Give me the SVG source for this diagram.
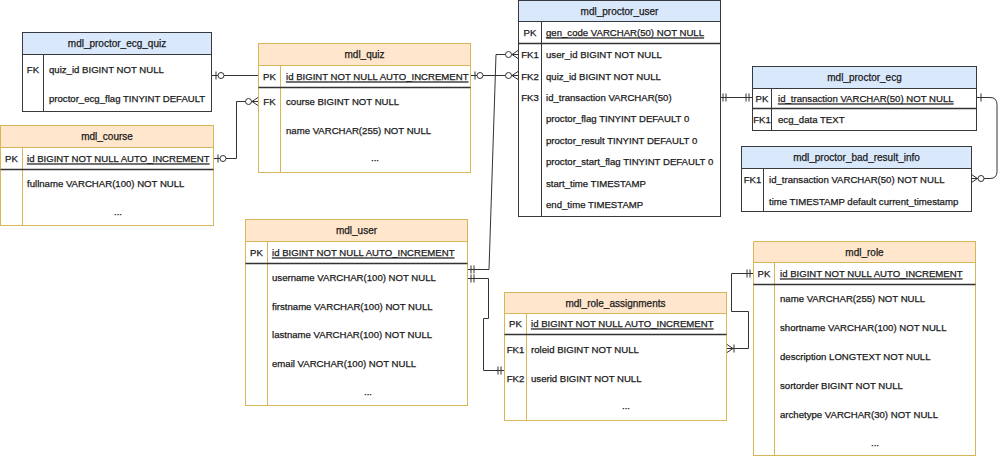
<svg xmlns="http://www.w3.org/2000/svg" width="1004" height="457" viewBox="0 0 1004 457">
<style>
.bg{fill:#ffffff}
.bodyO{fill:#ffffff;stroke:#d6b656;stroke-width:1}
.hdrO{fill:#ffe6cc;stroke:#d6b656;stroke-width:1}
.colO{stroke:#d6b656;stroke-width:1}
.bodyB{fill:#ffffff;stroke:#36393d;stroke-width:1}
.hdrB{fill:#dae8fc;stroke:#36393d;stroke-width:1}
.colB{stroke:#36393d;stroke-width:1}
.pk{stroke:#333333;stroke-width:1.5}
text{font-family:"Liberation Sans",Arial,Helvetica,sans-serif;fill:#1a1a1a;stroke:#1a1a1a;stroke-width:0.25}
.h{font-size:10px;text-anchor:middle;dominant-baseline:central}
.r{font-size:9.6px;dominant-baseline:central}
.k{font-size:9.6px;text-anchor:middle;dominant-baseline:central}
.u{text-decoration:underline}
.d{font-size:9.6px;text-anchor:middle}
.conn{fill:none;stroke:#333333;stroke-width:1}
.m{fill:none;stroke:#333333;stroke-width:1}
.mc{fill:#ffffff;stroke:#333333;stroke-width:1}
</style>
<defs>
<marker id="zeroToOne" markerUnits="userSpaceOnUse" markerWidth="20" markerHeight="20" refX="0" refY="0" orient="auto-start-reverse" style="overflow:visible">
<path class="m" d="M-4,-4V4"/><circle class="mc" cx="-9" cy="0" r="3"/>
</marker>
<marker id="zeroToMany" markerUnits="userSpaceOnUse" markerWidth="20" markerHeight="20" refX="0" refY="0" orient="auto-start-reverse" style="overflow:visible">
<path class="m" d="M0,-4L-6,0L0,4"/><circle class="mc" cx="-9.5" cy="0" r="3"/>
</marker>
<marker id="mandOne" markerUnits="userSpaceOnUse" markerWidth="20" markerHeight="20" refX="0" refY="0" orient="auto-start-reverse" style="overflow:visible">
<path class="m" d="M-3,-4V4M-6,-4V4"/>
</marker>
<marker id="oneToMany" markerUnits="userSpaceOnUse" markerWidth="20" markerHeight="20" refX="0" refY="0" orient="auto-start-reverse" style="overflow:visible">
<path class="m" d="M0,-4L-6,0L0,4M-7,-4V4"/>
</marker>
<marker id="one" markerUnits="userSpaceOnUse" markerWidth="20" markerHeight="20" refX="0" refY="0" orient="auto-start-reverse" style="overflow:visible">
<path class="m" d="M-5,-4V4"/>
</marker>
</defs>
<rect class="bg" x="0" y="0" width="1004" height="457"/>

<g id="connectors">
<path class="conn" d="M212,75.5H258" marker-start="url(#zeroToOne)"/>
<path class="conn" d="M214,158.5H236.5V101.5H258" marker-start="url(#zeroToOne)" marker-end="url(#zeroToMany)"/>
<path class="conn" d="M471,75.5H518" marker-start="url(#zeroToOne)" marker-end="url(#zeroToMany)"/>
<path class="conn" d="M468,269.5H489L496,54.5H518" marker-start="url(#mandOne)" marker-end="url(#zeroToMany)"/>
<path class="conn" d="M468,278.5H488.5V318.5H483.5V370.5H504" marker-start="url(#mandOne)" marker-end="url(#mandOne)"/>
<path class="conn" d="M720,97.5H752" marker-start="url(#mandOne)" marker-end="url(#mandOne)"/>
<path class="conn" d="M976,97.5H990Q997,97.5 997,104.5V171.5Q997,178.5 990,178.5H971.5" marker-start="url(#one)" marker-end="url(#zeroToMany)"/>
<path class="conn" d="M727,348.5H748.5V311.5H731.5V273.5H753" marker-start="url(#oneToMany)" marker-end="url(#mandOne)"/>
</g>

<g id="mdl_proctor_ecg_quiz">
<rect class="bodyB" x="22.5" y="32.5" width="189" height="79"/>
<rect class="hdrB" x="22.5" y="32.5" width="189" height="22"/>
<line class="colB" x1="43.5" y1="54.5" x2="43.5" y2="111.5"/>
<text class="h" x="117" y="43.5">mdl_proctor_ecg_quiz</text>
<text class="k" x="33" y="69">FK</text>
<text class="r" x="49" y="69">quiz_id BIGINT NOT NULL</text>
<text class="r" x="49" y="98">proctor_ecg_flag TINYINT DEFAULT</text>
</g>

<g id="mdl_course">
<rect class="bodyO" x="0.5" y="125.5" width="213" height="100"/>
<rect class="hdrO" x="0.5" y="125.5" width="213" height="22"/>
<line class="colO" x1="22.5" y1="147.5" x2="22.5" y2="225.5"/>
<line class="pk" x1="0.5" y1="169.5" x2="213.5" y2="169.5"/>
<text class="h" x="107" y="136.5">mdl_course</text>
<text class="k" x="11.5" y="158">PK</text>
<text class="r u" x="27" y="158">id BIGINT NOT NULL AUTO_INCREMENT</text>
<text class="r" x="27" y="183">fullname VARCHAR(100) NOT NULL</text>
<text class="d" x="118" y="215">...</text>
</g>

<g id="mdl_quiz">
<rect class="bodyO" x="258.5" y="43.5" width="212" height="129"/>
<rect class="hdrO" x="258.5" y="43.5" width="212" height="22"/>
<line class="colO" x1="280.5" y1="65.5" x2="280.5" y2="172.5"/>
<line class="pk" x1="258.5" y1="87.5" x2="470.5" y2="87.5"/>
<text class="h" x="364.5" y="54.5">mdl_quiz</text>
<text class="k" x="269.5" y="76">PK</text>
<text class="r u" x="286" y="76">id BIGINT NOT NULL AUTO_INCREMENT</text>
<text class="k" x="269.5" y="101">FK</text>
<text class="r" x="286" y="101">course BIGINT NOT NULL</text>
<text class="r" x="286" y="130">name VARCHAR(255) NOT NULL</text>
<text class="d" x="375" y="161">...</text>
</g>

<g id="mdl_proctor_user">
<rect class="bodyB" x="518.5" y="0.5" width="202" height="216"/>
<rect class="hdrB" x="518.5" y="0.5" width="202" height="21"/>
<line class="colB" x1="541.5" y1="21.5" x2="541.5" y2="216.5"/>
<line class="pk" x1="518.5" y1="43.5" x2="720.5" y2="43.5"/>
<text class="h" x="619.5" y="11">mdl_proctor_user</text>
<text class="k" x="530" y="32">PK</text>
<text class="r u" x="546" y="32">gen_code VARCHAR(50) NOT NULL</text>
<text class="k" x="530" y="54">FK1</text>
<text class="r" x="546" y="54">user_id BIGINT NOT NULL</text>
<text class="k" x="530" y="76">FK2</text>
<text class="r" x="546" y="76">quiz_id BIGINT NOT NULL</text>
<text class="k" x="530" y="97">FK3</text>
<text class="r" x="546" y="97">id_transaction VARCHAR(50)</text>
<text class="r" x="546" y="118">proctor_flag TINYINT DEFAULT 0</text>
<text class="r" x="546" y="140">proctor_result TINYINT DEFAULT 0</text>
<text class="r" x="546" y="161">proctor_start_flag TINYINT DEFAULT 0</text>
<text class="r" x="546" y="183">start_time TIMESTAMP</text>
<text class="r" x="546" y="204">end_time TIMESTAMP</text>
</g>

<g id="mdl_proctor_ecg">
<rect class="bodyB" x="752.5" y="66.5" width="224" height="64"/>
<rect class="hdrB" x="752.5" y="66.5" width="224" height="22"/>
<line class="colB" x1="771.5" y1="88.5" x2="771.5" y2="130.5"/>
<line class="pk" x1="752.5" y1="108.5" x2="976.5" y2="108.5"/>
<text class="h" x="864.5" y="77">mdl_proctor_ecg</text>
<text class="k" x="762" y="98">PK</text>
<text class="r u" x="778" y="98">id_transaction VARCHAR(50) NOT NULL</text>
<text class="k" x="762" y="119">FK1</text>
<text class="r" x="778" y="119">ecg_data TEXT</text>
</g>

<g id="mdl_proctor_bad_result_info">
<rect class="bodyB" x="741.5" y="146.5" width="230" height="65"/>
<rect class="hdrB" x="741.5" y="146.5" width="230" height="22"/>
<line class="colB" x1="763.5" y1="168.5" x2="763.5" y2="211.5"/>
<text class="h" x="856.5" y="157">mdl_proctor_bad_result_info</text>
<text class="k" x="752.5" y="179">FK1</text>
<text class="r" x="769" y="179">id_transaction VARCHAR(50) NOT NULL</text>
<text class="r" x="769" y="201">time TIMESTAMP default current_timestamp</text>
</g>

<g id="mdl_user">
<rect class="bodyO" x="245.5" y="219.5" width="222" height="186"/>
<rect class="hdrO" x="245.5" y="219.5" width="222" height="22"/>
<line class="colO" x1="267.5" y1="241.5" x2="267.5" y2="405.5"/>
<line class="pk" x1="245.5" y1="263.5" x2="467.5" y2="263.5"/>
<text class="h" x="356.5" y="230.5">mdl_user</text>
<text class="k" x="256.5" y="252">PK</text>
<text class="r u" x="272" y="252">id BIGINT NOT NULL AUTO_INCREMENT</text>
<text class="r" x="272" y="277">username VARCHAR(100) NOT NULL</text>
<text class="r" x="272" y="306">firstname VARCHAR(100) NOT NULL</text>
<text class="r" x="272" y="334">lastname VARCHAR(100) NOT NULL</text>
<text class="r" x="272" y="363">email VARCHAR(100) NOT NULL</text>
<text class="d" x="368" y="395">...</text>
</g>

<g id="mdl_role_assignments">
<rect class="bodyO" x="504.5" y="292.5" width="222" height="128"/>
<rect class="hdrO" x="504.5" y="292.5" width="222" height="21"/>
<line class="colO" x1="526.5" y1="313.5" x2="526.5" y2="420.5"/>
<line class="pk" x1="504.5" y1="334.5" x2="726.5" y2="334.5"/>
<text class="h" x="615.5" y="303">mdl_role_assignments</text>
<text class="k" x="515.5" y="323">PK</text>
<text class="r u" x="531" y="323">id BIGINT NOT NULL AUTO_INCREMENT</text>
<text class="k" x="515.5" y="349">FK1</text>
<text class="r" x="531" y="349">roleid BIGINT NOT NULL</text>
<text class="k" x="515.5" y="378">FK2</text>
<text class="r" x="531" y="378">userid BIGINT NOT NULL</text>
<text class="d" x="626" y="409">...</text>
</g>

<g id="mdl_role">
<rect class="bodyO" x="753.5" y="241.5" width="222" height="214"/>
<rect class="hdrO" x="753.5" y="241.5" width="222" height="21"/>
<line class="colO" x1="774.5" y1="262.5" x2="774.5" y2="455.5"/>
<line class="pk" x1="753.5" y1="284.5" x2="975.5" y2="284.5"/>
<text class="h" x="864.5" y="252">mdl_role</text>
<text class="k" x="764" y="273">PK</text>
<text class="r u" x="780" y="273">id BIGINT NOT NULL AUTO_INCREMENT</text>
<text class="r" x="780" y="298">name VARCHAR(255) NOT NULL</text>
<text class="r" x="780" y="327">shortname VARCHAR(100) NOT NULL</text>
<text class="r" x="780" y="356">description LONGTEXT NOT NULL</text>
<text class="r" x="780" y="385">sortorder BIGINT NOT NULL</text>
<text class="r" x="780" y="414">archetype VARCHAR(30) NOT NULL</text>
<text class="d" x="875" y="446">...</text>
</g>
</svg>
